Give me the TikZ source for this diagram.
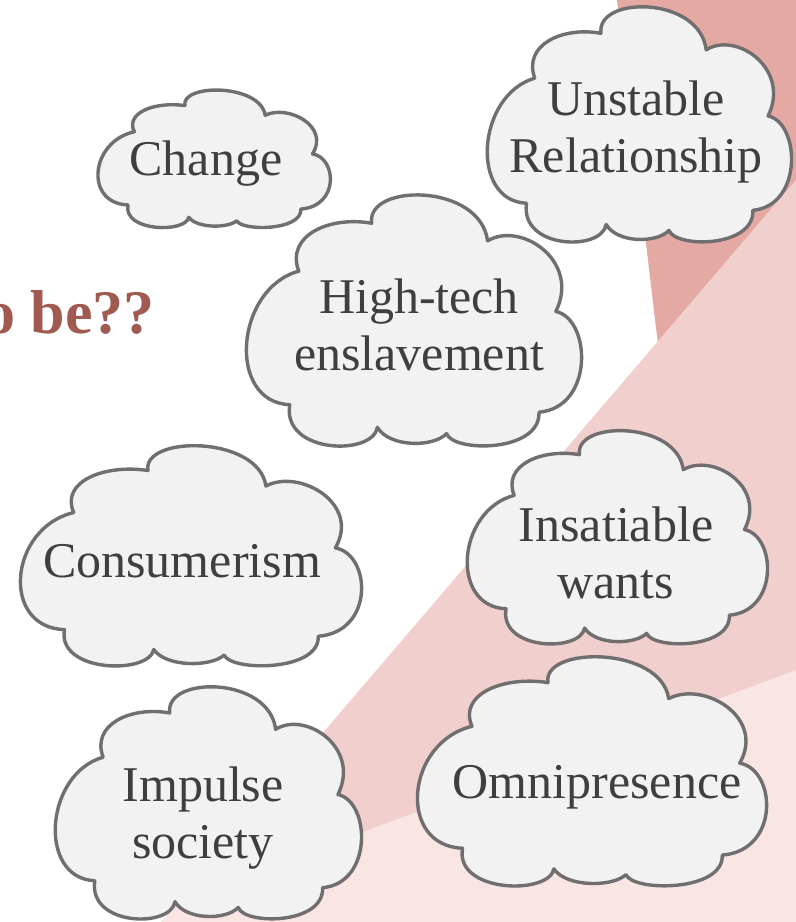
\documentclass[tikz,border=0pt]{standalone}
\usepackage{fontspec}
\setmainfont{Liberation Serif}
\definecolor{bgdark}{HTML}{E5A9A4}
\definecolor{bglight}{HTML}{F0CFCD}
\definecolor{bglightest}{HTML}{F9E6E4}
\definecolor{cloudfill}{HTML}{F2F2F2}
\definecolor{cloudline}{HTML}{706E6E}
\definecolor{cloudtext}{HTML}{3F3F3F}
\definecolor{titlecol}{HTML}{A05A50}

\tikzset{
  cloudbody/.style={fill=cloudfill, draw=cloudline, line width=3.4pt, line join=round},
  cloudlabel/.style={anchor=base, inner sep=0pt, align=center, text=cloudtext,
    font=\fontsize{50}{57}\selectfont},
}

% cloud outline drawn in a 100 x 100 box (y downwards), scaled to w x h
\newcommand\cloudat[4]{% x y w h  (top-left corner and size, in px)
  \begin{scope}[shift={(#1,#2)}, xscale=#3/100, yscale=#4/100]
    \draw[cloudbody] (13.3,84)
      .. controls (-5.5,83) and (-3,38) .. (16,31)
      .. controls (12,17) and (25,9) .. (37.7,12)
      .. controls (36,-4) and (70,-4) .. (72.2,19)
      .. controls (82,11) and (100,27) .. (92.5,47)
      .. controls (103,50) and (104,85) .. (87.5,87)
      .. controls (88,103) and (62,103) .. (60,95.5)
      .. controls (56,101) and (43,101) .. (39.4,93)
      .. controls (38,104.5) and (11,103.5) .. (13.3,84)
      -- cycle;
  \end{scope}%
}

\begin{document}
\begin{tikzpicture}[x=1pt, y=-1pt]
  \useasboundingbox (0,0) rectangle (796,922);
  \clip (0,0) rectangle (796,922);
  \fill[white] (0,0) rectangle (796,922);

  % background facets
  \fill[bgdark] (617,0) -- (657.7,341.8) -- (796,180) -- (796,0) -- cycle;
  \fill[bglight] (796,180) -- (161,922) -- (796,922) -- cycle;
  \fill[bglightest] (796,670) -- (179.6,900.6) -- (161,922) -- (796,922) -- cycle;

  % title fragment
  \node[anchor=base east, inner sep=0pt, text=titlecol,
        font=\bfseries\fontsize{62}{62}\selectfont] (title) at (155,333) {o be??};

  % clouds
  \cloudat{97}{89}{233}{138}
  \node[cloudlabel] (change) at (206,175) {Change};

  \cloudat{486}{5}{305}{236}
  \node[cloudlabel] (unstable) at (636,172) {Unstable\\Relationship};

  \cloudat{245}{193}{336}{252}
  \node[cloudlabel] (hightech) at (419,370) {High-tech\\enslavement};

  \cloudat{19}{444}{342}{221}
  \node[cloudlabel] (consumerism) at (182,577) {Consumerism};

  \cloudat{466}{429}{301}{214}
  \node[cloudlabel] (insatiable) at (616,598) {Insatiable\\wants};

  \cloudat{54}{685}{307}{233}
  \node[cloudlabel] (impulse) at (203,858) {Impulse\\society};

  \cloudat{416}{655}{350}{230}
  \node[cloudlabel] (omni) at (597,798) {Omnipresence};
\end{tikzpicture}
\end{document}
